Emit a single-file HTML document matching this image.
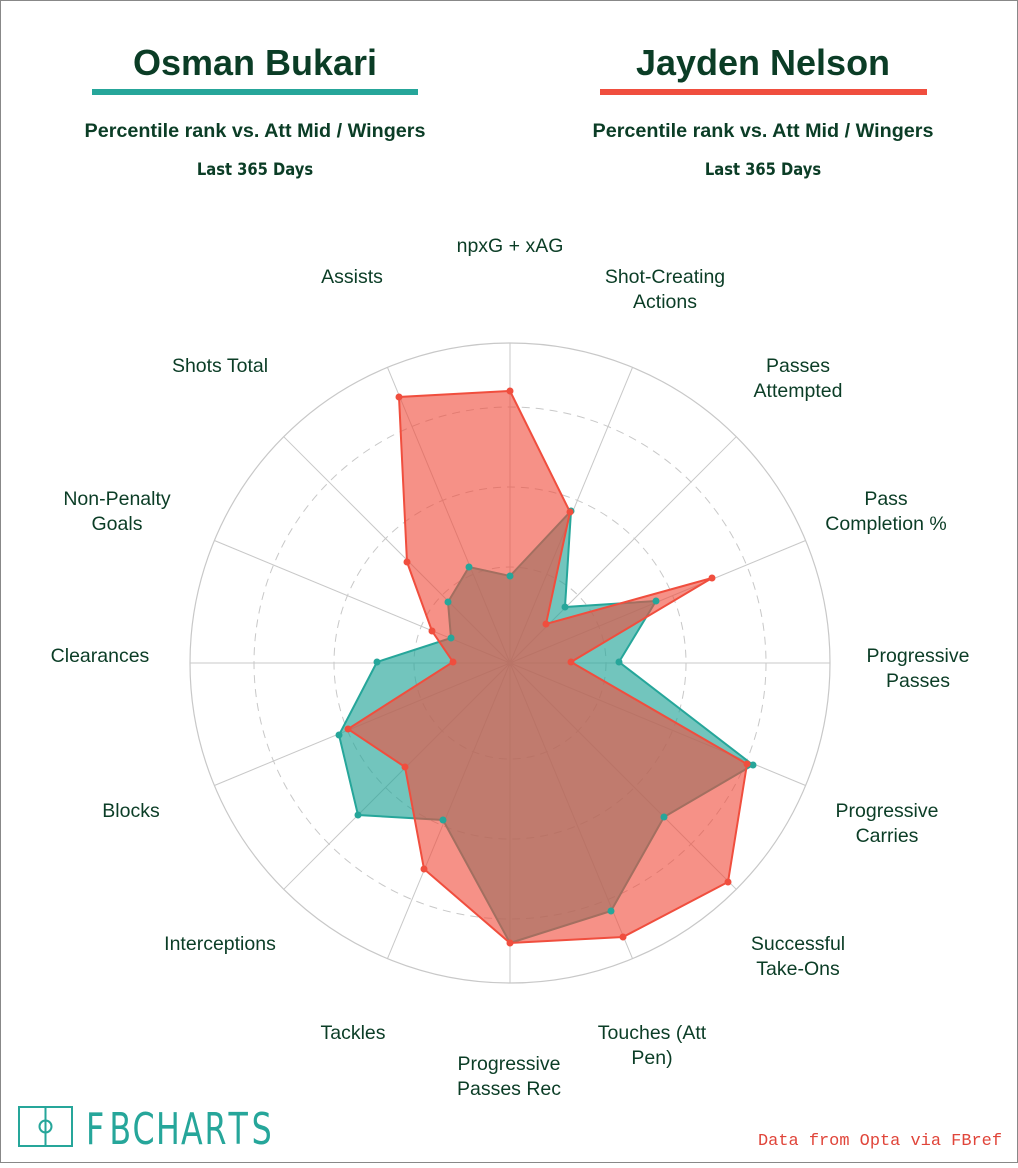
<!DOCTYPE html>
<html><head><meta charset="utf-8"><style>
html,body{margin:0;padding:0;background:#fff}
body{width:1018px;height:1163px;overflow:hidden}
</style></head><body>
<svg width="1018" height="1163" viewBox="0 0 1018 1163" xmlns="http://www.w3.org/2000/svg" font-family="Liberation Sans, Arial, sans-serif">
<rect x="0.5" y="0.5" width="1017" height="1162" fill="#fff" stroke="#888" stroke-width="1"/>
<g fill="#0b3d26" text-anchor="middle">
<text x="255" y="75" font-size="36" font-weight="bold">Osman Bukari</text>
<text x="763" y="75" font-size="36" font-weight="bold">Jayden Nelson</text>
<text x="255" y="137" font-size="19.5" font-weight="bold" textLength="341" lengthAdjust="spacingAndGlyphs">Percentile rank vs. Att Mid / Wingers</text>
<text x="763" y="137" font-size="19.5" font-weight="bold" textLength="341" lengthAdjust="spacingAndGlyphs">Percentile rank vs. Att Mid / Wingers</text>
<text x="255" y="175" font-size="16.4" font-weight="bold" font-family="DejaVu Sans Condensed, DejaVu Sans, sans-serif">Last 365 Days</text>
<text x="763" y="175" font-size="16.4" font-weight="bold" font-family="DejaVu Sans Condensed, DejaVu Sans, sans-serif">Last 365 Days</text>
</g>
<rect x="92" y="89" width="326" height="6" fill="#26a69a"/>
<rect x="600" y="89" width="327" height="6" fill="#f04e3e"/>
<g stroke="#c8c8c8" fill="none">
<circle cx="510" cy="663" r="320" stroke-width="1.2"/>
<circle cx="510" cy="663" r="256" stroke-dasharray="8,6"/>
<circle cx="510" cy="663" r="176" stroke-dasharray="8,6"/>
<circle cx="510" cy="663" r="96" stroke-dasharray="8,6"/>
<line x1="510" y1="663" x2="510" y2="343"/>
<line x1="510" y1="663" x2="632.5" y2="367.4"/>
<line x1="510" y1="663" x2="736.3" y2="436.7"/>
<line x1="510" y1="663" x2="805.6" y2="540.5"/>
<line x1="510" y1="663" x2="830" y2="663"/>
<line x1="510" y1="663" x2="805.6" y2="785.5"/>
<line x1="510" y1="663" x2="736.3" y2="889.3"/>
<line x1="510" y1="663" x2="632.5" y2="958.6"/>
<line x1="510" y1="663" x2="510" y2="983"/>
<line x1="510" y1="663" x2="387.5" y2="958.6"/>
<line x1="510" y1="663" x2="283.7" y2="889.3"/>
<line x1="510" y1="663" x2="214.4" y2="785.5"/>
<line x1="510" y1="663" x2="190" y2="663"/>
<line x1="510" y1="663" x2="214.4" y2="540.5"/>
<line x1="510" y1="663" x2="283.7" y2="436.7"/>
<line x1="510" y1="663" x2="387.5" y2="367.4"/>
</g>
<polygon points="510,576 571,511 565,607 656,601 619,662 753,765 664,817 611,911 510,943 443,820 358,815 339,735 377,662 451,638 448,602 469,567" fill="#26a69a" fill-opacity="0.65" stroke="#26a69a" stroke-width="2"/>
<polygon points="510,391 570,512 546,624 712,578 571,662 747,764 728,882 623,937 510,943 424,869 405,767 348,729 453,662 432,631 407,562 399,397" fill="#f04e3e" fill-opacity="0.62" stroke="#f04e3e" stroke-width="2"/>
<g fill="#26a69a">
<circle cx="510" cy="576" r="3.5"/><circle cx="571" cy="511" r="3.5"/><circle cx="565" cy="607" r="3.5"/><circle cx="656" cy="601" r="3.5"/><circle cx="619" cy="662" r="3.5"/><circle cx="753" cy="765" r="3.5"/><circle cx="664" cy="817" r="3.5"/><circle cx="611" cy="911" r="3.5"/><circle cx="443" cy="820" r="3.5"/><circle cx="358" cy="815" r="3.5"/><circle cx="339" cy="735" r="3.5"/><circle cx="377" cy="662" r="3.5"/><circle cx="451" cy="638" r="3.5"/><circle cx="448" cy="602" r="3.5"/><circle cx="469" cy="567" r="3.5"/>
</g>
<g fill="#f04e3e">
<circle cx="510" cy="391" r="3.5"/><circle cx="570" cy="512" r="3.5"/><circle cx="546" cy="624" r="3.5"/><circle cx="712" cy="578" r="3.5"/><circle cx="571" cy="662" r="3.5"/><circle cx="747" cy="764" r="3.5"/><circle cx="728" cy="882" r="3.5"/><circle cx="623" cy="937" r="3.5"/><circle cx="510" cy="943" r="3.5"/><circle cx="424" cy="869" r="3.5"/><circle cx="405" cy="767" r="3.5"/><circle cx="348" cy="729" r="3.5"/><circle cx="453" cy="662" r="3.5"/><circle cx="432" cy="631" r="3.5"/><circle cx="407" cy="562" r="3.5"/><circle cx="399" cy="397" r="3.5"/>
</g>
<g fill="#0b3d26" font-size="19.5" text-anchor="middle">
<text x="510" y="252">npxG + xAG</text>
<text x="665" y="283">Shot-Creating</text><text x="665" y="308">Actions</text>
<text x="798" y="372">Passes</text><text x="798" y="397">Attempted</text>
<text x="886" y="505">Pass</text><text x="886" y="530">Completion %</text>
<text x="918" y="662">Progressive</text><text x="918" y="687">Passes</text>
<text x="887" y="817">Progressive</text><text x="887" y="842">Carries</text>
<text x="798" y="950">Successful</text><text x="798" y="975">Take-Ons</text>
<text x="652" y="1039">Touches (Att</text><text x="652" y="1064">Pen)</text>
<text x="509" y="1070">Progressive</text><text x="509" y="1095">Passes Rec</text>
<text x="353" y="1039">Tackles</text>
<text x="220" y="950">Interceptions</text>
<text x="131" y="817">Blocks</text>
<text x="100" y="662">Clearances</text>
<text x="117" y="505">Non-Penalty</text><text x="117" y="530">Goals</text>
<text x="220" y="372">Shots Total</text>
<text x="352" y="283">Assists</text>
</g>
<g stroke="#26a69a" stroke-width="2" fill="none">
<rect x="19" y="1107" width="53" height="39"/>
<line x1="45.5" y1="1107" x2="45.5" y2="1146"/>
<circle cx="45.5" cy="1126.5" r="6"/>
</g>
<g transform="scale(0.72 1)">
<text y="1144" font-size="44" fill="#26a69a" font-family="DejaVu Sans, sans-serif" x="119.4 152 184 216.7 251.4 284 317.4 349.4">FBCHARTS</text>
</g>
<text x="1002" y="1145" font-size="17" fill="#e0453a" text-anchor="end" font-family="Liberation Mono, monospace" textLength="244" lengthAdjust="spacingAndGlyphs">Data from Opta via FBref</text>
</svg>
</body></html>
